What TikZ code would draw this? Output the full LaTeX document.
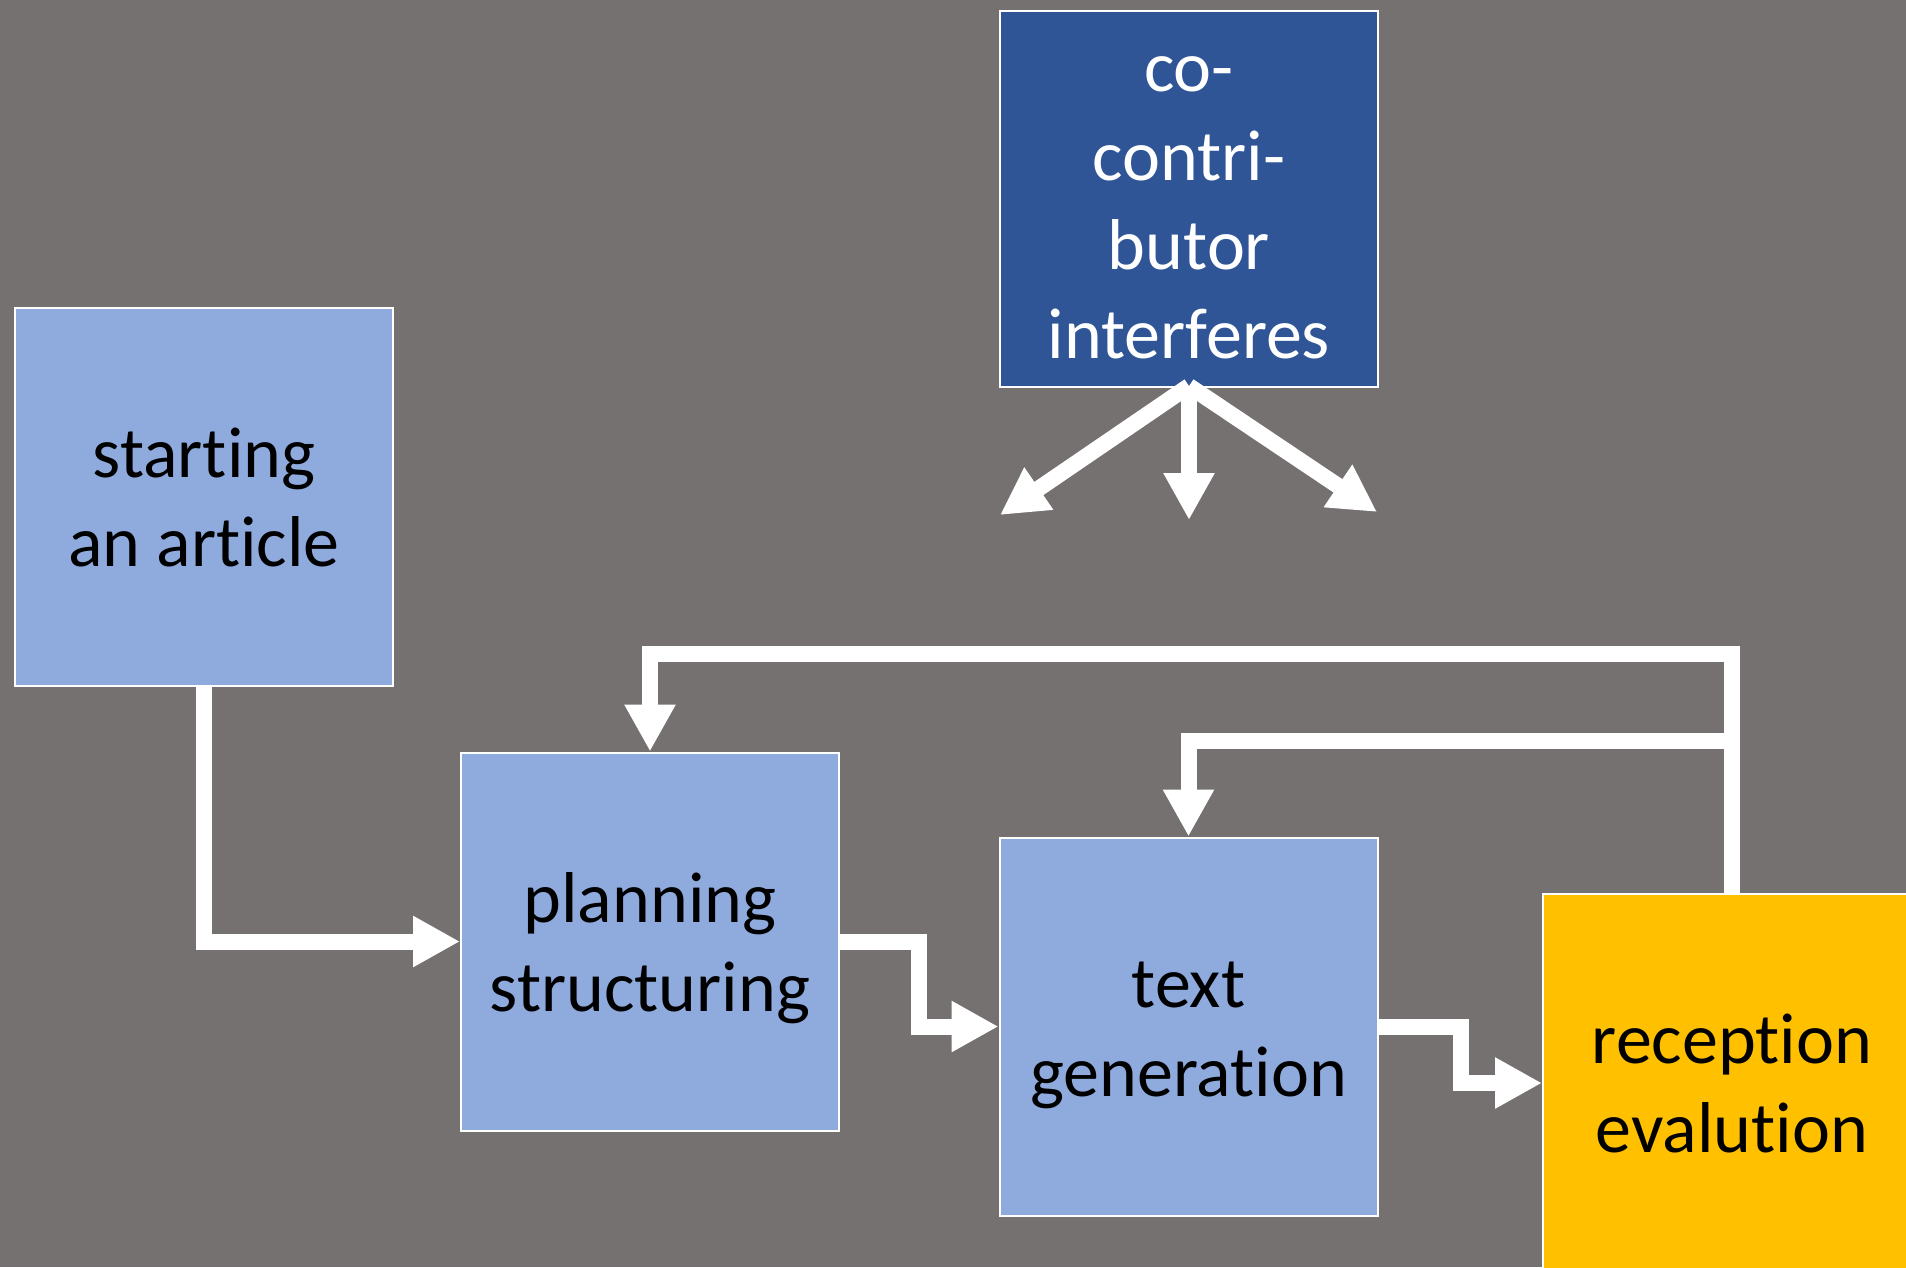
\documentclass[tikz,border=0pt]{standalone}
\usepackage{fontspec}
\setmainfont{Carlito}[RawFeature={-liga;-clig;-calt;-dlig}]
\usetikzlibrary{arrows.meta,calc}
\definecolor{bggray}{HTML}{767171}
\definecolor{lightblue}{HTML}{8FAADC}
\definecolor{darkblue}{HTML}{2F5597}
\definecolor{goldy}{HTML}{FFC000}
\tikzset{
  box/.style={draw=white, line width=2pt, minimum width=378pt, minimum height=378pt,
    inner sep=0pt, align=center, font=\fontsize{72}{89}\selectfont},
  lbox/.style={box, fill=lightblue, text=black},
  dbox/.style={box, fill=darkblue, text=white},
  ybox/.style={box, fill=goldy, text=black},
  boxtext/.style={align=center, font=\fontsize{72}{89}\selectfont, inner sep=0pt},
  conn/.style={draw=white, line width=16pt, -{Triangle[length=47pt,width=48pt]}}
}
\begin{document}
\begin{tikzpicture}[x=1pt,y=-1pt]
\fill[bggray] (0,0) rectangle (1906,1267);
\useasboundingbox (0,0) rectangle (1906,1267);
\node[lbox] (start) at (204,497) {starting\\an article};
\node[dbox, minimum height=376pt] (cocon) at (1189,199) {};
\node[boxtext, text=white] (cocontext) at (1189,208) {co-\\contri-\\butor\\interferes};
\node[lbox] (plan) at (650,941.5) {};
\node[boxtext] (plantext) at (650,948) {planning\\structuring};
\node[lbox] (tg) at (1188.5,1026.5) {};
\node[boxtext] (tgtext) at (1188.5,1035) {text\\generation};
\node[ybox] (rec) at (1732,1083) {reception\\evalution};

\coordinate (dl) at (1000,515);
\coordinate (dm) at (1189,520);
\coordinate (dr) at (1377,512);
\coordinate (src) at (1189,386);

\draw[conn] (src) -- (dl);
\draw[conn] (src) -- (dr);
\draw[conn] (src) -- (dm);

\draw[conn] (start.south) |- (plan.west);
\draw[conn] (plan.east) -- ++(79,0) |- (tg.west);
\draw[conn] (tg.east) -- ++(82,0) |- (rec.west);
\draw[conn] (rec.north) -- (rec.north |- 0,653.5) -| (plan.north);
\draw[conn] (rec.north |- 0,741) -| (tg.north);
\end{tikzpicture}
\end{document}
